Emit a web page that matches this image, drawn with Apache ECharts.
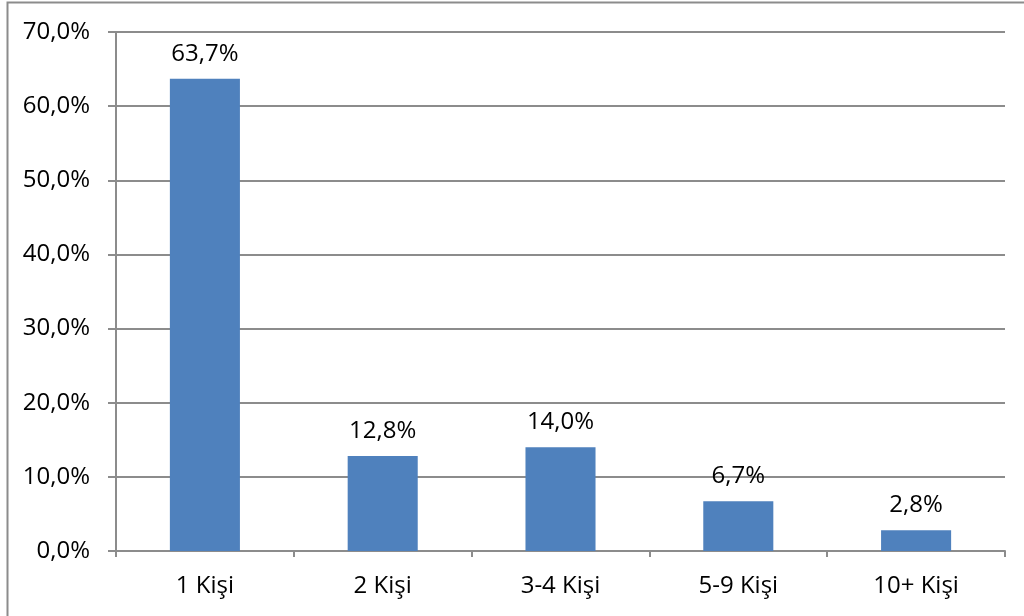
<!DOCTYPE html>
<html>
<head>
<meta charset="utf-8">
<script src="https://cdn.jsdelivr.net/npm/echarts@6/dist/echarts.min.js"></script>
<style>
html,body{margin:0;padding:0;background:#fff;}
#c{width:1024px;height:616px;}
</style>
</head>
<body>
<div id="c"></div>
<script>
var categories = ['1 Kişi', '2 Kişi', '3-4 Kişi', '5-9 Kişi', '10+ Kişi'];
var values = [63.7, 12.8, 14.0, 6.7, 2.8];

function fmt(v){ return v.toFixed(1).replace('.', ',') + '%'; }

var chart = echarts.init(document.getElementById('c'));
chart.setOption({
  animation: false,
  backgroundColor: '#fff',
  textStyle: { fontFamily: 'Open Sans' },
  graphic: [{
    type: 'rect',
    shape: { x: 7.5, y: 2.5, width: 1100, height: 700 },
    style: { fill: 'none', stroke: '#8c8c8c', lineWidth: 2 },
    silent: true
  }],
  grid: { left: 116, right: 19, top: 32, bottom: 65 },
  xAxis: {
    type: 'category',
    data: categories,
    axisLine: { lineStyle: { color: '#8c8c8c', width: 2 } },
    axisTick: { show: true, length: 6, alignWithLabel: false, lineStyle: { color: '#8c8c8c', width: 2 } },
    axisLabel: { color: '#000', fontSize: 24, margin: 23, fontFamily: 'Open Sans' }
  },
  yAxis: {
    type: 'value',
    min: 0, max: 70, interval: 10,
    axisLine: { show: true, lineStyle: { color: '#8c8c8c', width: 2 } },
    axisTick: { show: true, length: 8, lineStyle: { color: '#8c8c8c', width: 2 } },
    splitLine: { lineStyle: { color: '#8c8c8c', width: 2 } },
    axisLabel: { color: '#000', fontSize: 24, margin: 26, formatter: fmt, fontFamily: 'Open Sans' }
  },
  series: [{
    type: 'bar',
    data: values,
    barWidth: '39.4%',
    itemStyle: { color: '#4F81BD' },
    label: {
      show: true, position: 'top', distance: 13,
      color: '#000', fontSize: 24, fontFamily: 'Open Sans',
      formatter: function(p){ return fmt(p.value); }
    }
  }]
});
</script>
</body>
</html>
